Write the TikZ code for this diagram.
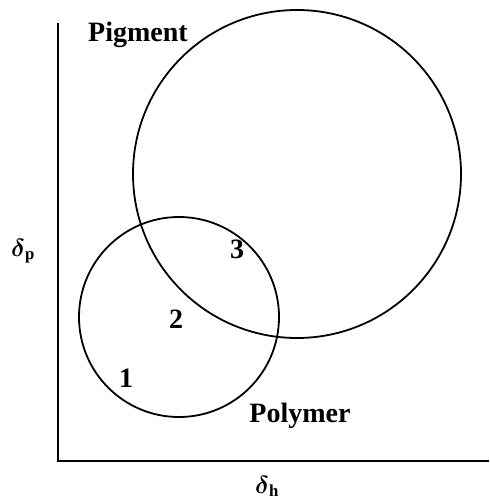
\documentclass[tikz,border=0pt]{standalone}
\usepackage{amsmath}
\usepackage{fontspec}
\setmainfont{Liberation Serif}
\usetikzlibrary{calc}

\begin{document}
\begin{tikzpicture}[x=1pt,y=-1pt,line width=1.8pt,
    lbl/.style={anchor=base,inner sep=0pt,font=\fontsize{28}{30}\selectfont\bfseries},
    axlbl/.style={anchor=base,inner sep=0pt,font=\fontsize{24}{26}\selectfont}]
  \useasboundingbox (0,0) rectangle (489,502);
  \coordinate (O) at (58,461);
  \coordinate (Ytop) at (58,23);
  \coordinate (Xend) at (489,461);
  \coordinate (Cpig) at (297,174);
  \coordinate (Cpol) at (179,317);
  \draw (Ytop)--(O)--(Xend);
  \draw (Cpig) circle (164pt);
  \draw (Cpol) circle (100pt);
  \node[lbl] (pigment) at (138,42) {Pigment};
  \node[lbl] (polymer) at (300,422) {Polymer};
  \node[lbl] (p1) at (126,387) {1};
  \node[lbl] (p2) at (176,328) {2};
  \node[lbl] (p3) at (237,258) {3};
  \node[axlbl] (dp) at (23,256) {$\boldsymbol{\delta}_{\mathbf{p}}$};
  \node[axlbl] (dh) at (267,493) {$\boldsymbol{\delta}_{\mathbf{h}}$};
\end{tikzpicture}
\end{document}
